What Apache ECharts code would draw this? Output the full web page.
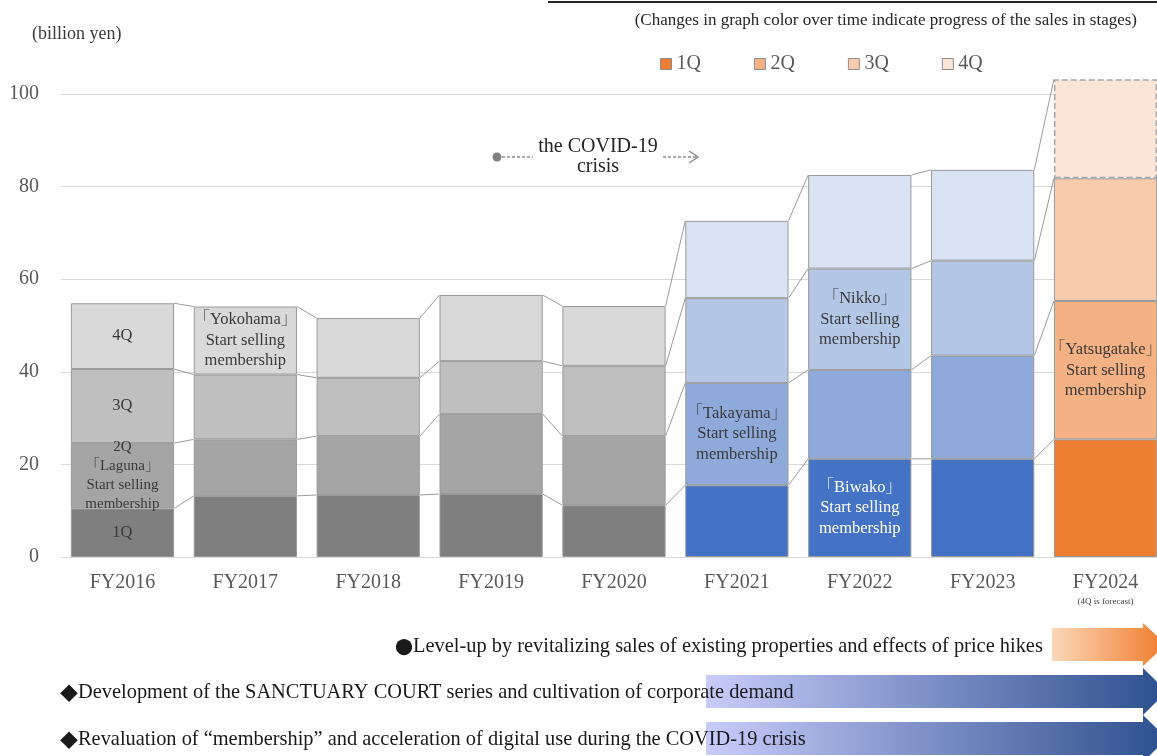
<!DOCTYPE html>
<html>
<head>
<meta charset="utf-8">
<script src="https://cdn.jsdelivr.net/npm/echarts@6/dist/echarts.min.js"></script>
<style>
  html, body { margin: 0; padding: 0; background: #ffffff; }
  #chart { width: 1157px; height: 756px; }
</style>
</head>
<body>
<div id="chart"></div>
<script>
// Fiscal years on the x axis
const categories = ['FY2016', 'FY2017', 'FY2018', 'FY2019', 'FY2020', 'FY2021', 'FY2022', 'FY2023', 'FY2024'];
// Quarterly sales (billion yen), stacked per year
const q1 = [10.5, 13.2, 13.4, 13.6, 11.2, 15.5, 21.2, 21.2, 25.4];
const q2 = [14.1, 12.2, 12.7, 17.3, 14.9, 22.1, 19.2, 22.3, 29.9];
const q3 = [16.0, 14.0, 12.6, 11.4, 15.2, 18.3, 21.9, 20.5, 26.5];
const q4 = [14.2, 14.7, 12.9, 14.3, 12.9, 16.7, 20.2, 19.6, 21.4];
const quarterNames = ['1Q', '2Q', '3Q', '4Q'];
// Sales stage of each year (drives the colour family)
const stage = ['past', 'past', 'past', 'past', 'past', 'recent', 'recent', 'recent', 'forecast'];
// Y axis ticks
const yMin = 0, yMax = 100, yStep = 20;

// Text written inside individual segments: [year, quarter index, text]
const segmentNotes = [
  ['FY2016', 0, '1Q'],
  ['FY2016', 1, '2Q\n「Laguna」\nStart selling\nmembership'],
  ['FY2016', 2, '3Q'],
  ['FY2016', 3, '4Q'],
  ['FY2017', 3, '「Yokohama」\nStart selling\nmembership'],
  ['FY2021', 1, '「Takayama」\nStart selling\nmembership'],
  ['FY2022', 0, '「Biwako」\nStart selling\nmembership'],
  ['FY2022', 2, '「Nikko」\nStart selling\nmembership'],
  ['FY2024', 1, '「Yatsugatake」\nStart selling\nmembership']
];

const SERIF = "'Liberation Serif', 'Noto Serif CJK JP', 'Noto Sans CJK JP', serif";
const CJK = "'Noto Sans CJK JP', sans-serif";
const palette = {
  past:     ['#7f7f7f', '#a5a5a5', '#bfbfbf', '#d9d9d9'],
  recent:   ['#4472c4', '#8eaadb', '#b4c7e7', '#dae3f3'],
  forecast: ['#ed7d31', '#f4b183', '#f8cbad', '#fbe5d6']
};
const BAR_RATIO = 0.84;

const quarters = [q1, q2, q3, q4];

// cumulative tops for the series lines between neighbouring bars
const cum = quarters.map((_, k) =>
  categories.map((_, i) => quarters.slice(0, k + 1).reduce((s, arr) => s + arr[i], 0))
);
const linkData = [];
for (let i = 0; i < categories.length - 1; i++) {
  for (let k = 0; k < 4; k++) linkData.push([i, cum[k][i], cum[k][i + 1]]);
}

const barSeries = quarters.map((vals, k) => ({
  name: quarterNames[k],
  type: 'bar',
  stack: 'total',
  barWidth: (BAR_RATIO * 100) + '%',
  clip: false,
  z: 2,
  emphasis: { disabled: true },
  itemStyle: { color: palette.forecast[k] },
  data: vals.map((v, i) => {
    const isForecastTop = stage[i] === 'forecast' && k === 3;
    const item = {
      value: v,
      itemStyle: {
        color: palette[stage[i]][k],
        borderColor: isForecastTop ? '#a6a6a6' : '#9a9a9a',
        borderWidth: isForecastTop ? 1.5 : 1,
        borderType: isForecastTop ? [6, 3] : 'solid'
      }
    };
    const note = segmentNotes.find(n => n[0] === categories[i] && n[1] === k);
    if (note) {
      const small = categories[i] === 'FY2016' && k === 1;
      item.label = {
        show: true,
        position: 'inside',
        formatter: note[2],
        fontFamily: SERIF,
        fontSize: small ? 15 : 16.5,
        lineHeight: small ? 19 : 20.5,
        color: (stage[i] === 'recent' && k === 0) ? '#ffffff' : '#3a3a3a'
      };
    }
    return item;
  })
}));

const linkSeries = {
  type: 'custom',
  silent: true,
  z: 1,
  encode: { x: 0, y: 1 },
  data: linkData,
  renderItem: (params, api) => {
    const i = api.value(0);
    const a = api.coord([i, api.value(1)]);
    const b = api.coord([i + 1, api.value(2)]);
    const half = api.size([1, 0])[0] * BAR_RATIO / 2;
    return {
      type: 'line',
      shape: { x1: a[0] + half, y1: a[1], x2: b[0] - half, y2: b[1] },
      style: { stroke: '#9a9a9a', lineWidth: 1 }
    };
  }
};

function arrowPoints(x0, xHead, tip, top, bottom, flare) {
  const mid = (top + bottom) / 2;
  return [[x0, top], [xHead, top], [xHead, top - flare], [tip, mid],
          [xHead, bottom + flare], [xHead, bottom], [x0, bottom]];
}
const orangeFill = new echarts.graphic.LinearGradient(0, 0, 1, 0, [
  { offset: 0, color: '#fcd8b8' }, { offset: 1, color: '#ef7b2c' }
]);
const blueFill = () => new echarts.graphic.LinearGradient(0, 0, 1, 0, [
  { offset: 0, color: '#c9ccfb' }, { offset: 1, color: '#2c4f8e' }
]);
const bulletRich = {
  m: { fontFamily: CJK, fontSize: 18, fill: '#1a1a1a' },
  t: { fontFamily: SERIF, fontSize: 20.4, fill: '#1a1a1a' }
};

const option = {
  animation: false,
  backgroundColor: '#ffffff',
  grid: { left: 61, right: -10, top: 94, bottom: 199, outerBoundsMode: 'none', containLabel: false },
  legend: {
    data: quarterNames,
    left: 660, top: 54, padding: 0,
    itemWidth: 11, itemHeight: 11, itemGap: 53,
    icon: 'rect',
    selectedMode: false,
    itemStyle: { borderColor: '#8c8c8c', borderWidth: 1 },
    textStyle: { fontFamily: SERIF, fontSize: 20, color: '#595959', padding: [0, 0, 0, 0] }
  },
  xAxis: {
    type: 'category',
    data: categories,
    axisTick: { show: false },
    axisLine: { lineStyle: { color: '#d9d9d9', width: 1 } },
    axisLabel: {
      interval: 0,
      margin: 16,
      fontFamily: SERIF, fontSize: 20, color: '#595959',
      formatter: v => v === 'FY2024' ? v + '\n{s|(4Q is forecast)}' : v,
      rich: { s: { fontFamily: SERIF, fontSize: 9, color: '#3a3a3a', lineHeight: 16, padding: [2, 0, 0, 0] } }
    }
  },
  yAxis: {
    type: 'value',
    min: yMin, max: yMax, interval: yStep,
    axisLine: { show: false },
    axisTick: { show: false },
    axisLabel: { margin: 22, fontFamily: SERIF, fontSize: 20, color: '#595959' },
    splitLine: { lineStyle: { color: '#d9d9d9', width: 1 } }
  },
  graphic: [
    // unit caption
    { type: 'text', style: { x: 32, y: 34, text: '(billion yen)', font: '18px ' + SERIF, fill: '#3a3a3a', textVerticalAlign: 'middle' } },
    // heading rule
    { type: 'line', shape: { x1: 548, y1: 2, x2: 1157, y2: 2 }, style: { stroke: '#262626', lineWidth: 2 } },
    { type: 'text', style: { x: 1137, y: 21, text: '(Changes in graph color over time indicate progress of the sales in stages)',
      font: '17px ' + SERIF, fill: '#262626', textAlign: 'right', textVerticalAlign: 'middle' } },
    // COVID-19 period marker
    { type: 'circle', shape: { cx: 497, cy: 157, r: 4.5 }, style: { fill: '#7f7f7f' } },
    { type: 'line', shape: { x1: 502, y1: 157, x2: 533, y2: 157 }, style: { stroke: '#8c8c8c', lineWidth: 1.5, lineDash: [3, 2] } },
    { type: 'text', style: { x: 598, y: 157, text: 'the COVID-19\ncrisis', font: '20px ' + SERIF, lineHeight: 20,
      fill: '#262626', textAlign: 'center', textVerticalAlign: 'middle' } },
    { type: 'line', shape: { x1: 663, y1: 157, x2: 697, y2: 157 }, style: { stroke: '#8c8c8c', lineWidth: 1.5, lineDash: [3, 2] } },
    { type: 'polyline', shape: { points: [[689, 151], [698, 157], [689, 163]] }, style: { stroke: '#8c8c8c', lineWidth: 1.5, fill: null } },
    // strategy arrows
    { type: 'polygon', z: 1, shape: { points: arrowPoints(1052, 1143, 1166, 628, 661, 5) }, style: { fill: orangeFill } },
    { type: 'polygon', z: 1, shape: { points: arrowPoints(706, 1143, 1167, 675, 708, 7) }, style: { fill: blueFill() } },
    { type: 'polygon', z: 1, shape: { points: arrowPoints(706, 1143, 1167, 722, 755, 7) }, style: { fill: blueFill() } },
    { type: 'text', z: 5, style: { x: 395, y: 647, text: '{m|●}{t|Level-up by revitalizing sales of existing properties and effects of price hikes}',
      rich: bulletRich, textVerticalAlign: 'middle' } },
    { type: 'text', z: 5, style: { x: 60, y: 693, text: '{m|◆}{t|Development of the SANCTUARY COURT series and cultivation of corporate demand}',
      rich: bulletRich, textVerticalAlign: 'middle' } },
    { type: 'text', z: 5, style: { x: 60, y: 740, text: '{m|◆}{t|Revaluation of “membership” and acceleration of digital use during the COVID-19 crisis}',
      rich: bulletRich, textVerticalAlign: 'middle' } }
  ],
  series: [linkSeries, ...barSeries]
};

const chart = echarts.init(document.getElementById('chart'), null, { renderer: 'canvas' });
chart.setOption(option);
</script>
</body>
</html>
